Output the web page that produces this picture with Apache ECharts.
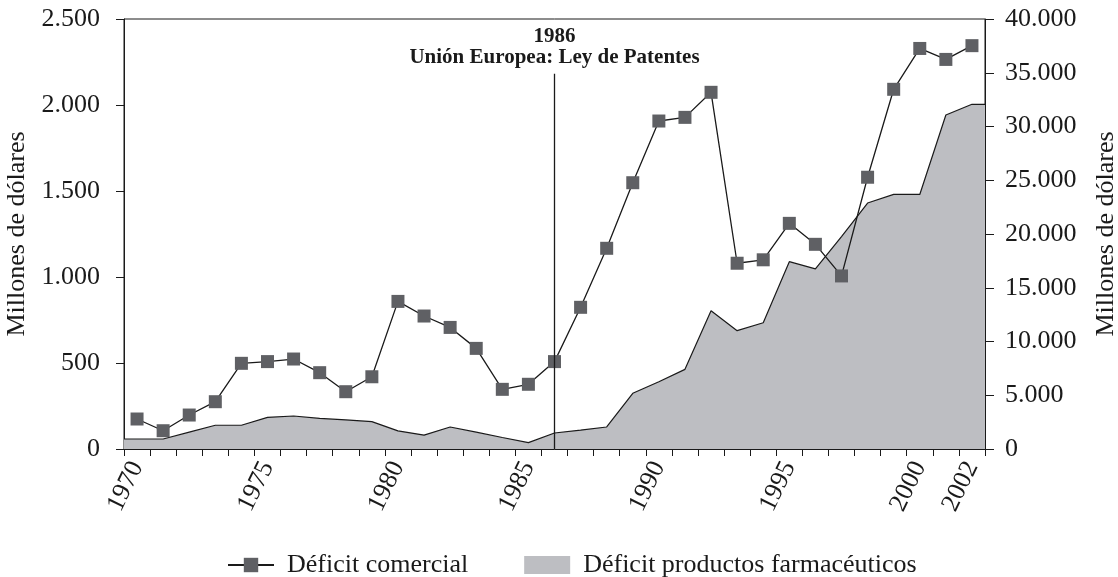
<!DOCTYPE html>
<html>
<head>
<meta charset="utf-8">
<script src="https://cdn.jsdelivr.net/npm/echarts@6/dist/echarts.min.js"></script>
<style>
  html, body { margin: 0; padding: 0; background: #fff; }
  #chart { width: 1118px; height: 577px; }
</style>
</head>
<body>
<div id="chart"></div>
<script>
// Years on the horizontal axis
const years = [
  '1970','1971','1972','1973','1974','1975','1976','1977','1978','1979',
  '1980','1981','1982','1983','1984','1985','1986','1987','1988','1989',
  '1990','1991','1992','1993','1994','1995','1996','1997','1998','1999',
  '2000','2001','2002'
];
// Years that get a printed label
const labelledYears = ['1970','1975','1980','1985','1990','1995','2000','2002'];

// Trade deficit, million dollars (right axis)
const tradeDeficit = [
  2790, 1700, 3160, 4400, 7970, 8130, 8370, 7100, 5330, 6720,
  13730, 12370, 11310, 9360, 5550, 6020, 8130, 13180, 18670, 24770,
  30510, 30850, 33180, 17280, 17600, 20990, 19040, 16100, 25280, 33460,
  37260, 36240, 37520
];
// Pharmaceutical products deficit, million dollars (left axis)
const pharmaDeficit = [
  58, 58, 98, 138, 138, 184, 192, 178, 169, 159,
  105, 81, 128, 98, 67, 37, 93, 110, 128, 324,
  391, 463, 804, 688, 734, 1089, 1047, 1235, 1430, 1480,
  1480, 1942, 2004
];

// Axis ranges
const leftMax = 2500, leftStep = 500;
const rightMax = 40000, rightStep = 5000;

// Patent-law event marker
const eventYear = '1986';
const eventTop = 34900;
const eventTitle = 'Unión Europea: Ley de Patentes';

const FONT = 'Liberation Serif';
const INK = '#1a1a1a';

const fmt = v => String(v).replace(/\B(?=(\d{3})+(?!\d))/g, '.');

// Area spans the full plot width: extend first/last values to the edges
const lastIdx = years.length - 1;
const pharmaPoints = [[-0.5, pharmaDeficit[0]]]
  .concat(pharmaDeficit.map((v, i) => [i, v]))
  .concat([[lastIdx + 0.5, pharmaDeficit[lastIdx]]]);

const chart = echarts.init(document.getElementById('chart'), null, { renderer: 'canvas' });

chart.setOption({
  animation: false,
  backgroundColor: '#fff',
  textStyle: { fontFamily: FONT, color: INK },
  grid: {
    left: 124, right: 133, top: 19, bottom: 128,
    outerBoundsMode: 'none',
    containLabel: false,
    show: true, borderColor: INK, borderWidth: 1, backgroundColor: 'transparent'
  },
  legend: {
    left: 222, top: 547,
    itemWidth: 46, itemHeight: 18, itemGap: 56,
    textStyle: { fontFamily: FONT, fontSize: 26, color: INK, padding: [0, 0, 0, 8] },
    data: [
      { name: 'Déficit comercial' },
      { name: 'Déficit productos farmacéuticos', icon: 'rect',
        itemStyle: { color: '#bdbec2', borderWidth: 0 }, lineStyle: { width: 0, opacity: 0 } }
    ]
  },
  xAxis: [
    {
      type: 'category',
      data: years,
      boundaryGap: true,
      axisLine: { onZero: false, lineStyle: { color: INK, width: 1 } },
      axisTick: { show: true, interval: 0, length: 7, lineStyle: { color: INK } },
      axisLabel: {
        interval: (i, v) => labelledYears.indexOf(v) >= 0,
        rotate: 64, margin: 14,
        fontFamily: FONT, fontSize: 26, color: INK
      },
      splitLine: { show: false }
    },
    {
      type: 'value',
      min: -0.5, max: lastIdx + 0.5,
      show: false
    }
  ],
  yAxis: [
    {
      type: 'value',
      min: 0, max: leftMax, interval: leftStep,
      position: 'left',
      name: 'Millones de dólares', nameLocation: 'middle', nameGap: 85, nameRotate: 90,
      nameTextStyle: { fontFamily: FONT, fontSize: 26, color: INK },
      axisLine: { show: true, onZero: false, lineStyle: { color: INK } },
      axisTick: { show: true, length: 8, lineStyle: { color: INK } },
      axisLabel: { formatter: fmt, margin: 24, fontFamily: FONT, fontSize: 26, color: INK },
      splitLine: { show: false }
    },
    {
      type: 'value',
      min: 0, max: rightMax, interval: rightStep,
      position: 'right',
      name: 'Millones de dólares', nameLocation: 'middle', nameGap: 108, nameRotate: 90,
      nameTextStyle: { fontFamily: FONT, fontSize: 26, color: INK },
      axisLine: { show: true, onZero: false, lineStyle: { color: INK } },
      axisTick: { show: true, length: 9, lineStyle: { color: INK } },
      axisLabel: { formatter: fmt, margin: 20, fontFamily: FONT, fontSize: 26, color: INK },
      splitLine: { show: false }
    }
  ],
  series: [
    {
      name: 'Déficit productos farmacéuticos',
      type: 'line',
      xAxisIndex: 1, yAxisIndex: 0,
      data: pharmaPoints,
      showSymbol: false, symbol: 'none',
      lineStyle: { color: INK, width: 1.2 },
      itemStyle: { color: '#bdbec2' },
      areaStyle: { color: '#bdbec2', opacity: 1 },
      z: 1
    },
    {
      name: 'Déficit comercial',
      type: 'line',
      xAxisIndex: 0, yAxisIndex: 1,
      data: tradeDeficit,
      symbol: 'rect', symbolSize: 13,
      itemStyle: { color: '#5f6064' },
      lineStyle: { color: INK, width: 1.3 },
      z: 3,
      markLine: {
        silent: true,
        symbol: ['none', 'none'],
        lineStyle: { color: INK, width: 1.3, type: 'solid' },
        label: {
          show: true, position: 'end', distance: 6,
          formatter: '{y|' + eventYear + '}\n{t|' + eventTitle + '}',
          rich: {
            y: { fontFamily: FONT, fontSize: 21, fontWeight: 'bold', color: INK, lineHeight: 21, align: 'center' },
            t: { fontFamily: FONT, fontSize: 21, fontWeight: 'bold', color: INK, lineHeight: 21, align: 'center' }
          }
        },
        data: [[
          { coord: [eventYear, 0] },
          { coord: [eventYear, eventTop] }
        ]]
      }
    }
  ]
});
</script>
</body>
</html>
